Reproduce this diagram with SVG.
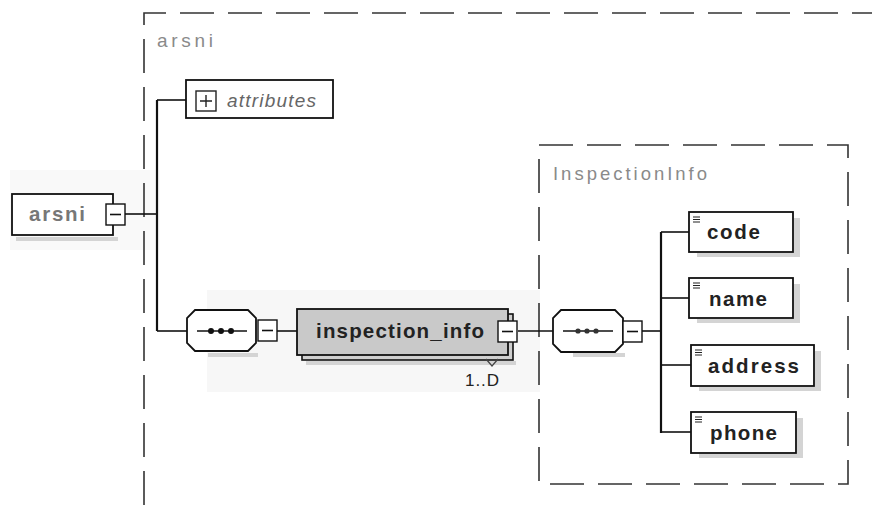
<svg xmlns="http://www.w3.org/2000/svg" width="872" height="507" viewBox="0 0 872 507">
<style>
.dash{fill:none;stroke:#333;stroke-width:1.6;stroke-dasharray:34 14}
.box{fill:#fff;stroke:#111;stroke-width:1.8}
.shadow{fill:#d4d4d4}
.wire{fill:none;stroke:#111;stroke-width:1.6}
.thick{fill:none;stroke:#111;stroke-width:2.2}
.lbl{font-family:"Liberation Sans",Arial,sans-serif;fill:#8a8a8a}
.el{font-family:"Liberation Sans",Arial,sans-serif;font-weight:bold;font-size:20.5px;fill:#222}
.sm{fill:#fff;stroke:#111;stroke-width:1.4}
</style>
<defs>
<g id="minus"><rect class="sm" x="0" y="0" width="19" height="21"/><line x1="4" y1="10.5" x2="15" y2="10.5" stroke="#111" stroke-width="1.6"/></g>
<g id="icon"><path d="M0 0h7M0 2.5h7M0 5h7" stroke="#222" stroke-width="1.1"/></g>
</defs>
<rect width="872" height="507" fill="#fff"/>
<rect x="207" y="290" width="333" height="102" fill="#f7f7f7"/>
<rect x="10" y="170" width="150" height="80" fill="#f9f9f9"/>

<!-- outer dashed group -->
<g id="arsni-group">
<path class="dash" d="M144 505 V13 H872"/>
<text class="lbl" x="157" y="47" font-size="19" textLength="56" lengthAdjust="spacing">arsni</text>
</g>

<!-- InspectionInfo dashed group -->
<g id="inspectioninfo-group">
<rect class="dash" x="539" y="145" width="309" height="339"/>
<text class="lbl" x="553" y="180" font-size="18.5" textLength="154" lengthAdjust="spacing">InspectionInfo</text>
</g>

<!-- connectors -->
<g id="connectors">
<path class="wire" d="M125 214 H157"/>
<path class="thick" d="M157 100 V331"/>
<path class="wire" d="M157 100 H186"/>
<path class="wire" d="M157 331 H187"/>
<path class="wire" d="M277 331 H297"/>
<path class="wire" d="M518 331 H553"/>
<path class="wire" d="M642 331 H661"/>
<path class="thick" d="M661 232 V433"/>
<path class="wire" d="M661 232 H689"/>
<path class="wire" d="M661 298 H689"/>
<path class="wire" d="M661 365 H691"/>
<path class="wire" d="M661 432 H691"/>
</g>

<!-- root arsni -->
<g id="node-arsni">
<rect class="shadow" x="16" y="237" width="102" height="4"/>
<rect class="box" x="12" y="194" width="101" height="41" stroke-width="2.2"/>
<text class="el" x="29" y="221" style="fill:#777" textLength="56" lengthAdjust="spacing">arsni</text>
<use href="#minus" x="106" y="204"/>
</g>

<!-- attributes -->
<g id="node-attributes">
<rect class="box" x="186" y="80" width="147" height="38" stroke="#444" stroke-width="1.5"/>
<rect x="196" y="91" width="20" height="20" fill="#fff" stroke="#222" stroke-width="1.4"/>
<path d="M200 101 H212 M206 95 V107" stroke="#222" stroke-width="1.4"/>
<text class="lbl" x="227" y="107" font-size="19" font-style="italic" style="fill:#666" textLength="89" lengthAdjust="spacing">attributes</text>
</g>

<!-- sequence 1 -->
<g id="node-sequence1">
<rect class="shadow" x="208" y="353" width="50" height="4"/>
<path d="M195 310 H248 L256 318 V343 L248 351 H195 L187 343 V318 Z" fill="#fff" stroke="#111" stroke-width="1.8"/>
<path d="M197 331 H247" stroke="#111" stroke-width="1.4"/>
<circle cx="211" cy="331" r="3" fill="#111"/>
<circle cx="221" cy="331" r="3" fill="#111"/>
<circle cx="231" cy="331" r="3" fill="#111"/>
<use href="#minus" x="258" y="320"/>
</g>

<!-- inspection_info -->
<g id="node-inspection_info">
<rect class="shadow" x="306" y="361" width="210" height="4"/>
<rect x="302" y="314" width="211" height="46" fill="#cfcfcf" stroke="#111" stroke-width="1.6"/>
<rect x="297" y="309" width="211" height="46" fill="#c9c9c9" stroke="#111" stroke-width="1.8"/>
<text class="el" x="316" y="338" textLength="168" lengthAdjust="spacing">inspection_info</text>
<use href="#minus" x="498" y="321"/>
<path d="M486 359 L492 366 L498 359" fill="none" stroke="#444" stroke-width="1.2"/>
<text x="465" y="386" font-family="'Liberation Sans',Arial,sans-serif" font-size="17" fill="#222" textLength="34" lengthAdjust="spacing">1..D</text>
</g>

<!-- sequence 2 -->
<g id="node-sequence2">
<rect class="shadow" x="573" y="353" width="52" height="4"/>
<path d="M561 310 H615 L623 318 V344 L615 352 H561 L553 344 V318 Z" fill="#fff" stroke="#111" stroke-width="1.8"/>
<path d="M563 331 H613" stroke="#111" stroke-width="1.4"/>
<circle cx="578" cy="331" r="2.6" fill="#333"/>
<circle cx="587" cy="331" r="2.6" fill="#333"/>
<circle cx="596" cy="331" r="2.6" fill="#333"/>
<use href="#minus" x="623" y="321"/>
</g>

<!-- children -->
<g id="node-code">
<rect class="shadow" x="794" y="218" width="6" height="38"/>
<rect class="shadow" x="697" y="253" width="103" height="4"/>
<rect class="box" x="689" y="212" width="104" height="40"/>
<use href="#icon" x="693" y="217"/>
<text class="el" x="707" y="239" textLength="53" lengthAdjust="spacing">code</text>
</g>
<g id="node-name">
<rect class="shadow" x="794" y="284" width="6" height="38"/>
<rect class="shadow" x="697" y="319" width="103" height="4"/>
<rect class="box" x="689" y="278" width="104" height="40"/>
<use href="#icon" x="693" y="283"/>
<text class="el" x="709" y="306" textLength="58" lengthAdjust="spacing">name</text>
</g>
<g id="node-address">
<rect class="shadow" x="815" y="351" width="6" height="38"/>
<rect class="shadow" x="699" y="387" width="122" height="4"/>
<rect class="box" x="691" y="345" width="123" height="41"/>
<use href="#icon" x="695" y="350"/>
<text class="el" x="708" y="373" textLength="91" lengthAdjust="spacing">address</text>
</g>
<g id="node-phone">
<rect class="shadow" x="797" y="418" width="6" height="38"/>
<rect class="shadow" x="699" y="454" width="104" height="4"/>
<rect class="box" x="691" y="412" width="105" height="41"/>
<use href="#icon" x="695" y="417"/>
<text class="el" x="710" y="440" textLength="67" lengthAdjust="spacing">phone</text>
</g>
</svg>
